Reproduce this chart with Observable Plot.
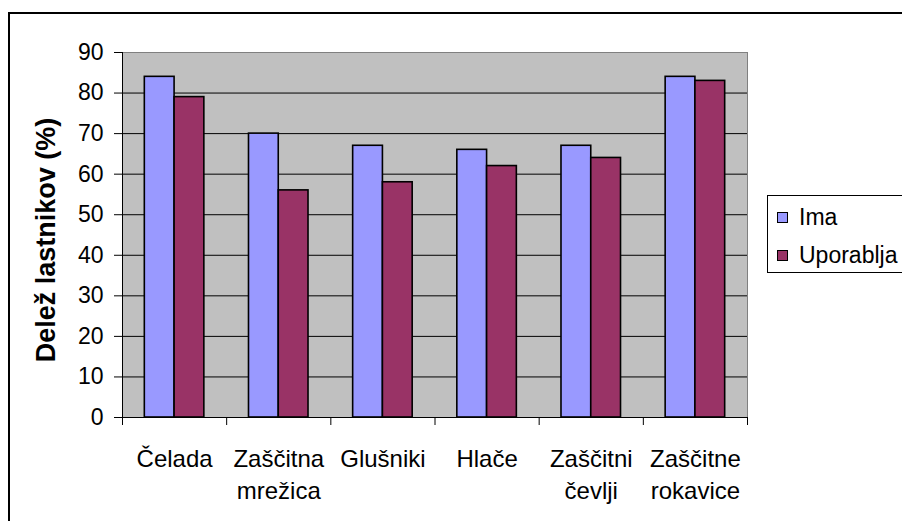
<!DOCTYPE html>
<html>
<head>
<meta charset="utf-8">
<script src="https://cdn.jsdelivr.net/npm/d3@7"></script>
<script src="https://cdn.jsdelivr.net/npm/@observablehq/plot@0.6"></script>
<style>
  html, body { margin: 0; padding: 0; background: #fff; overflow: hidden; }
  #wrap { position: relative; width: 902px; height: 521px; overflow: hidden; font-family: Arial, "Liberation Sans", sans-serif; }
  #outer { position: absolute; left: 8px; top: 12px; width: 1000px; height: 700px; border: 2px solid #000; box-sizing: border-box; }
  #chart { position: absolute; left: 0; top: 0; }
  #legend { position: absolute; left: 767px; top: 195px; width: 160px; height: 78px; border: 1px solid #000; background: #fff; box-sizing: border-box; }
  .item { position: absolute; left: 9px; height: 26px; display: flex; align-items: center; font-size: 23px; color: #000; }
  .sw { width: 11px; height: 11px; border: 1px solid #000; margin-right: 11px; box-sizing: border-box; }
</style>
</head>
<body>
<div id="wrap">
  <div id="outer"></div>
  <div id="chart"></div>
  <div id="legend"></div>
</div>
<script>
const categories = ["Čelada", "Zaščitna mrežica", "Glušniki", "Hlače", "Zaščitni čevlji", "Zaščitne rokavice"];
const categoryLabels = ["Čelada", "Zaščitna\nmrežica", "Glušniki", "Hlače", "Zaščitni\nčevlji", "Zaščitne\nrokavice"];
const seriesNames = ["Ima", "Uporablja"];
const imaValues = [84, 70, 67, 66, 67, 84];
const uporabljaValues = [79, 56, 58, 62, 64, 83];
const yTicks = [0, 10, 20, 30, 40, 50, 60, 70, 80, 90];
const seriesColors = ["#9999FF", "#993366"];
const yTitle = "Delež lastnikov (%)";

const seriesValues = [imaValues, uporabljaValues];
const rows = [];
categories.forEach((c, i) => {
  seriesNames.forEach((s, j) => rows.push({category: c, index: i, series: s, sIndex: j, value: seriesValues[j][i]}));
});

// Excel-style clustered layout: gap width 150% of a bar
const gapRatio = 1.5;
const barW = 1 / (seriesNames.length + gapRatio);
const edges = d3.range(categories.length + 1);

const chart = Plot.plot({
  width: 902,
  height: 521,
  marginLeft: 122,
  marginRight: 155,
  marginTop: 52,
  marginBottom: 104,
  x: {domain: [0, categories.length], axis: null},
  y: {domain: [0, 90], axis: null},
  color: {domain: seriesNames, range: seriesColors},
  style: {fontFamily: "Arial, 'Liberation Sans', sans-serif", background: "transparent", color: "#000", overflow: "visible"},
  marks: [
    Plot.frame({fill: "#C0C0C0", stroke: "#808080"}),
    Plot.gridY(yTicks.filter(t => t > 0 && t < 90), {stroke: "#000", strokeOpacity: 1}),
    Plot.rect(rows, {
      x1: d => d.index + gapRatio / 2 * barW + d.sIndex * barW,
      x2: d => d.index + gapRatio / 2 * barW + (d.sIndex + 1) * barW,
      y1: 0,
      y2: "value",
      fill: "series",
      stroke: "#000",
      strokeWidth: 1.6
    }),
    Plot.ruleX([0], {stroke: "#000"}),
    Plot.ruleY([0], {stroke: "#000"}),
    Plot.axisY({ticks: yTicks, tickSize: 8, tickPadding: 11, fontSize: 23, label: null, stroke: "#000"}),
    Plot.axisX({ticks: edges, tickSize: 8, tickFormat: () => "", label: null, stroke: "#000"}),
    Plot.text(categories, {
      x: (d, i) => i + 0.5,
      text: (d, i) => categoryLabels[i],
      frameAnchor: "bottom",
      lineAnchor: "top",
      dy: 26,
      fontSize: 24,
      lineHeight: 1.35,
      fill: "#000"
    }),
    Plot.text([yTitle], {frameAnchor: "left", textAnchor: "middle", rotate: -90, dx: -76, dy: 5, fontWeight: "bold", fontSize: 27, fill: "#000"})
  ]
});
document.getElementById("chart").appendChild(chart);

const legend = document.getElementById("legend");
seriesNames.forEach((s, j) => {
  const item = document.createElement("div");
  item.className = "item";
  item.style.top = (8 + j * 38) + "px";
  const sw = document.createElement("div");
  sw.className = "sw";
  sw.style.background = seriesColors[j];
  const t = document.createElement("span");
  t.textContent = s;
  item.appendChild(sw);
  item.appendChild(t);
  legend.appendChild(item);
});
</script>
</body>
</html>
